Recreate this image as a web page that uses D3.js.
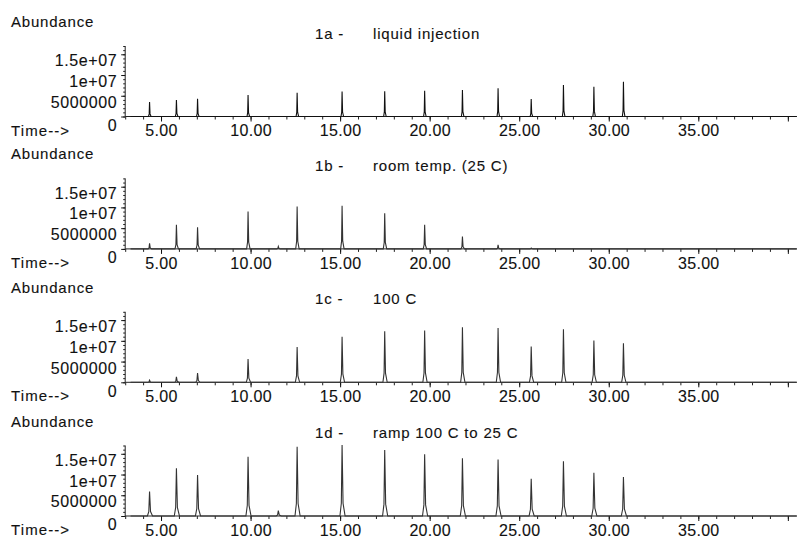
<!DOCTYPE html>
<html>
<head>
<meta charset="utf-8">
<script src="https://cdn.jsdelivr.net/npm/d3@7/dist/d3.min.js"></script>
<style>
  html, body { margin: 0; padding: 0; background: #fff; }
  svg { display: block; }
  text { font-family: "Liberation Sans", Arial, Helvetica, sans-serif; fill: #111; stroke: #111; stroke-width: 0.12px; }
</style>
</head>
<body>
<svg id="chart" width="797" height="540"></svg>
<script>
// ---- data ----
const panelIds = ["1a -", "1b -", "1c -", "1d -"];
const panelTitles = ["liquid injection", "room temp. (25 C)", "100 C", "ramp 100 C to 25 C"];
// retention times (min) of the peaks, shared by all runs
const retentionTimes = [4.36, 5.86, 7.04, 9.86, 11.55, 12.60, 15.11, 17.49, 19.72, 21.83, 23.82, 25.67, 27.47, 29.17, 30.82];
// peak abundances for each run
const abundance1a = [3.5e6, 4.0e6, 4.25e6, 5.2e6, 0, 5.7e6, 6.0e6, 6.1e6, 6.2e6, 6.4e6, 6.8e6, 4.2e6, 7.6e6, 7.2e6, 8.4e6];
const abundance1b = [1.35e6, 5.8e6, 5.2e6, 9.0e6, 0.6e6, 10.2e6, 10.4e6, 8.6e6, 5.8e6, 3.0e6, 1.0e6, 0.2e6, 0, 0, 0];
const abundance1c = [0.5e6, 1.3e6, 2.25e6, 5.6e6, 0, 8.5e6, 11.0e6, 12.3e6, 12.5e6, 13.3e6, 13.1e6, 8.6e6, 12.8e6, 10.1e6, 9.4e6];
const abundance1d = [5.9e6, 11.5e6, 9.9e6, 14.3e6, 1.3e6, 16.7e6, 17.1e6, 15.9e6, 14.9e6, 13.9e6, 13.6e6, 9.0e6, 13.2e6, 10.4e6, 9.4e6];
// peak half-width at base (min) for each run
const peakHalfWidths = [0.06, 0.08, 0.1, 0.12];
const timeDomain = [3, 40.5];
const abundanceDomain = [0, 1.7e7];
const xMajorTicks = [5, 10, 15, 20, 25, 30, 35, 40];
const xTickLabels = ["5.00", "10.00", "15.00", "20.00", "25.00", "30.00", "35.00", ""];
const yMajorTicks = [0, 5e6, 1e7, 1.5e7];
const yTickLabels = ["0", "5000000", "1e+07", "1.5e+07"];

const runs = [abundance1a, abundance1b, abundance1c, abundance1d];

// ---- layout ----
const svg = d3.select("#chart");
const x0 = 125.2, x1 = 796.8;
const baselines = [116.5, 248.9, 382.3, 516.0];
const plotH = 70.5;

const x = d3.scaleLinear().domain(timeDomain).range([x0, x1]);

runs.forEach((vals, i) => {
  const base = baselines[i];
  const y = d3.scaleLinear().domain(abundanceDomain).range([base, base - plotH]);
  const g = svg.append("g");

  // labels
  g.append("text").attr("x", 11).attr("y", base - 89.5)
    .style("font-size", "15px").style("letter-spacing", "0.8px").text("Abundance");
  g.append("text").attr("x", 315).attr("y", base - 78)
    .style("font-size", "15px").style("letter-spacing", "0.8px").text(panelIds[i]);
  g.append("text").attr("x", 373).attr("y", base - 78)
    .style("font-size", "15px").style("letter-spacing", "0.8px").text(panelTitles[i]);
  g.append("text").attr("x", 11).attr("y", base + 19)
    .style("font-size", "15px").style("letter-spacing", "1.1px").text("Time-->");

  // x axis: minor ticks
  const xMinor = d3.axisBottom(x).tickValues(d3.range(3, 41, 1)).tickSize(3).tickFormat("");
  const gxm = g.append("g").attr("transform", `translate(0,${base})`).call(xMinor);
  gxm.select(".domain").remove();
  gxm.selectAll("line").attr("stroke", "#222");
  // x axis: major ticks with labels
  const xMajor = d3.axisBottom(x).tickValues(xMajorTicks).tickSize(5).tickPadding(3)
    .tickFormat((d, k) => xTickLabels[k]);
  const gx = g.append("g").attr("transform", `translate(0,${base})`).call(xMajor);
  gx.select(".domain").remove();
  gx.selectAll("line").attr("stroke", "#111");
  gx.selectAll("text").style("font-size", "16px").style("letter-spacing", "0.3px")
    .attr("dy", "0.73em").attr("fill", "#111");
  g.append("line").attr("x1", x0).attr("x2", x1).attr("y1", base).attr("y2", base)
    .attr("stroke", "#222").attr("stroke-width", 1);

  // y axis: minor ticks
  const yMinor = d3.axisLeft(y).tickValues(d3.range(0, 1.71e7, 1e6)).tickSize(2).tickFormat("");
  const gym = g.append("g").attr("transform", `translate(${x0},0)`).call(yMinor);
  gym.select(".domain").remove();
  gym.selectAll("line").attr("stroke", "#222");
  const yMajor = d3.axisLeft(y).tickValues(yMajorTicks).tickSize(4).tickPadding(4)
    .tickFormat((d, k) => yTickLabels[k]);
  const gy = g.append("g").attr("transform", `translate(${x0},0)`).call(yMajor);
  gy.select(".domain").remove();
  gy.selectAll("line").attr("stroke", "#111");
  gy.selectAll("text").style("font-size", "16px").style("letter-spacing", "0.6px")
    .attr("fill", "#111")
    .attr("dy", d => d === 0 ? "0.86em" : "0.72em");
  g.append("line").attr("x1", x0).attr("x2", x0).attr("y1", base).attr("y2", base - plotH)
    .attr("stroke", "#222").attr("stroke-width", 1);

  // chromatogram trace
  const w = peakHalfWidths[i];
  const pts = [[timeDomain[0] + 0.3, 0]];
  retentionTimes.forEach((t, k) => {
    if (vals[k] <= 0) return;
    pts.push([t - w, 0], [t - w * 0.35, vals[k] * 0.18], [t, vals[k]], [t + w * 0.45, vals[k] * 0.18], [t + w * 1.4, 0]);
  });
  pts.push([timeDomain[1], 0]);
  const line = d3.line().x(d => x(d[0])).y(d => y(d[1]));
  g.append("path").attr("d", line(pts)).attr("fill", "none")
    .attr("stroke", i === 0 ? "#111" : "#333").attr("stroke-width", 1.1);
});
</script>
</body>
</html>
